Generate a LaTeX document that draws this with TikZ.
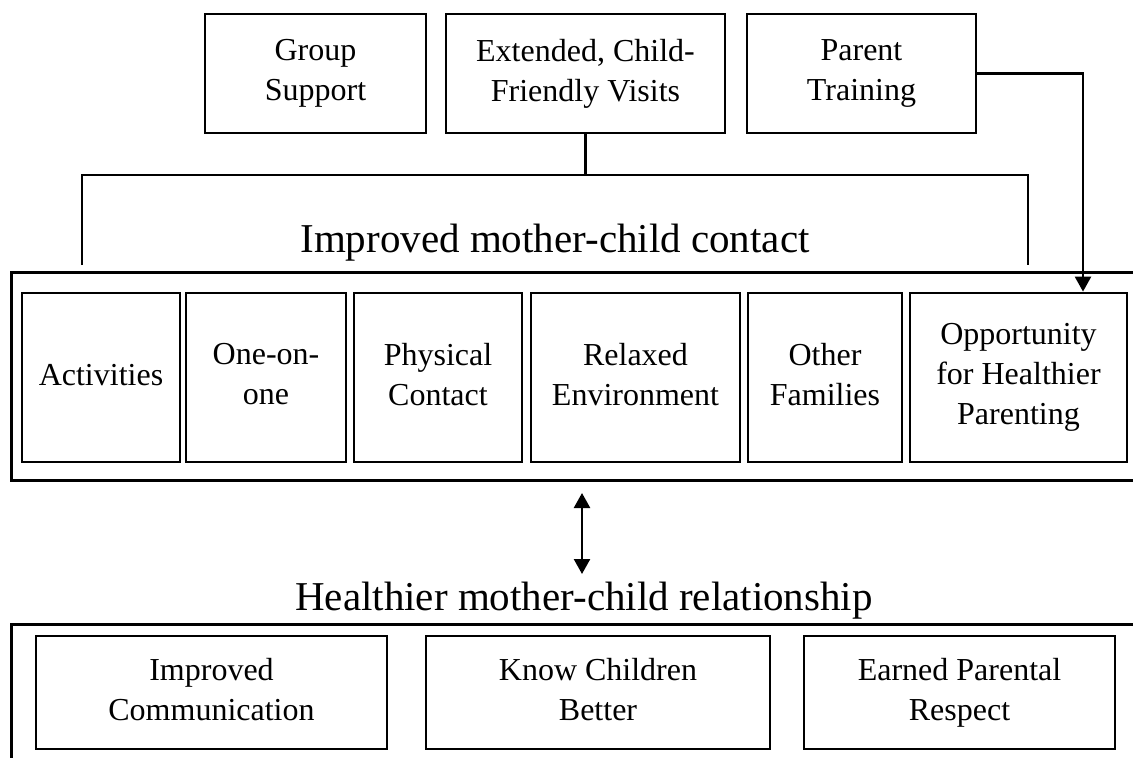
\documentclass[tikz,border=0pt]{standalone}
\usepackage{fontspec}
\setmainfont{Liberation Serif}
\usetikzlibrary{arrows.meta,positioning}
\newcommand{\boxfont}{\fontsize{32}{40}\selectfont}
\newcommand{\headfont}{\fontsize{41}{48}\selectfont}

\begin{document}
\begin{tikzpicture}[x=1pt,y=-1pt,
    box/.style={draw,line width=2.8pt,align=center,font=\boxfont,inner sep=0pt,
      execute at begin node=\rule{0pt}{23pt},execute at end node=\rule[-7pt]{0pt}{7pt}},
    frame/.style={draw,line width=3pt},
    link/.style={line width=2.4pt},
    tip/.style={-{Triangle[length=15pt,width=16pt]}},
    twotips/.style={{Triangle[length=15pt,width=16pt]}-{Triangle[length=15pt,width=16pt]}}]
  \useasboundingbox (0,0) rectangle (1133,758);
  % interventions
  \node[box,minimum width=221,minimum height=119] (grp) at (315.5,73.5) {Group\\Support};
  \node[box,minimum width=279,minimum height=119] (visits) at (585.5,73.5) {Extended, Child-\\Friendly Visits};
  \node[box,minimum width=229,minimum height=119] (train) at (861.5,73.5) {Parent\\Training};
  % contact
  \node[font=\headfont,anchor=base] (contact) at (555,252) {Improved mother-child contact};
  \node[frame,minimum width=1160,minimum height=208] (cframe) at (591,376) {};
  \node[box,minimum width=158,minimum height=169] (act) at (101,377.5) {Activities};
  \node[box,minimum width=160,minimum height=169] (one) at (266,377.5) {One-on-\\one};
  \node[box,minimum width=168,minimum height=169] (phys) at (438,377.5) {Physical\\Contact};
  \node[box,minimum width=209,minimum height=169] (relax) at (635.5,377.5) {Relaxed\\Environment};
  \node[box,minimum width=154,minimum height=169] (other) at (825,377.5) {Other\\Families};
  \node[box,minimum width=217,minimum height=169] (opp) at (1018.5,377.5) {Opportunity\\for Healthier\\Parenting};
  % relationship
  \node[font=\headfont,anchor=base] (relation) at (584,610) {Healthier mother-child relationship};
  \node[frame,minimum width=1160,minimum height=176] (rframe) at (591,712) {};
  \node[box,minimum width=351,minimum height=113] (comm) at (211.5,692.5) {Improved\\Communication};
  \node[box,minimum width=344,minimum height=113] (know) at (598,692.5) {Know Children\\Better};
  \node[box,minimum width=311,minimum height=113] (resp) at (959.5,692.5) {Earned Parental\\Respect};
  % connectors
  \coordinate (brk) at (585.5,175);
  \coordinate (brkL) at (82,265);
  \coordinate (brkR) at (1028,265);
  \draw[link] (visits.south) -- (brk);
  \draw[link] (brkL) |- (brkR |- brk) -- (brkR);
  \draw[link,tip] (train.east) -| ([xshift=64.5pt]opp.north);
  \coordinate (arrTop) at (582,493);
  \coordinate (arrBot) at (582,574);
  \draw[link,twotips] (arrTop) -- (arrBot);
\end{tikzpicture}
\end{document}
